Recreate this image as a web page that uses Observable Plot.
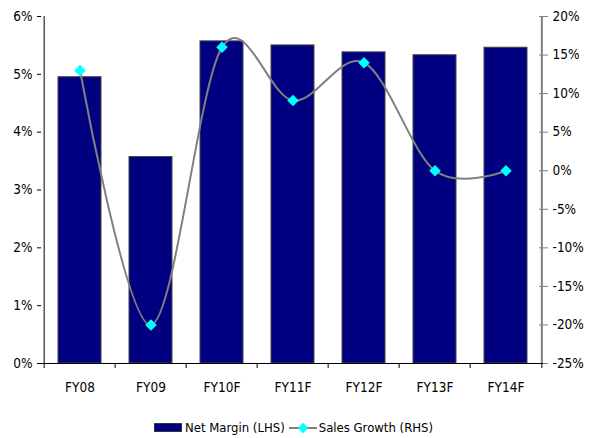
<!DOCTYPE html>
<html>
<head>
<meta charset="utf-8">
<script src="https://cdn.jsdelivr.net/npm/d3@7"></script>
<script src="https://cdn.jsdelivr.net/npm/@observablehq/plot@0.6"></script>
<style>
  html, body { margin: 0; padding: 0; background: #fff; }
  #chart { width: 593px; font-family: "DejaVu Sans Condensed", "DejaVu Sans", sans-serif; }
  .legend { display: flex; justify-content: center; align-items: center; height: 21px; padding-top: 22px; font-size: 13px; color: #000; padding-right: 6px; }
  .legend .sw { display: inline-block; width: 26px; height: 7px; background: #000080; border: 1px solid #333; margin-right: 3px; }
  .legend svg { margin: 0 2px 0 4px; }
</style>
</head>
<body>
<div id="chart"></div>
<script>
// Categories and series
const years = ["FY08", "FY09", "FY10F", "FY11F", "FY12F", "FY13F", "FY14F"];
const netMargin = [0.0495, 0.0357, 0.0557, 0.0550, 0.0538, 0.0533, 0.0546];
const salesGrowth = [0.13, -0.20, 0.16, 0.091, 0.14, 0.0, 0.0];

// Axis ticks
const leftTicks = [0, 0.01, 0.02, 0.03, 0.04, 0.05, 0.06];
const rightTicks = [-0.25, -0.20, -0.15, -0.10, -0.05, 0, 0.05, 0.10, 0.15, 0.20];

const leftDomain = [0, 0.06];
const rightDomain = [-0.25, 0.20];
// map right-hand values onto the left-hand scale
const toLeft = v => leftDomain[0] + (v - rightDomain[0]) / (rightDomain[1] - rightDomain[0]) * (leftDomain[1] - leftDomain[0]);

const W = 593, H = 395, mL = 41, mR = 50, mT = 16, mB = 32;
const step = (W - mL - mR) / years.length;
const pct = d => Math.round(d * 100) + "%";

const bars = years.map((y, i) => ({year: y, value: netMargin[i]}));
const growth = years.map((y, i) => ({year: y, value: salesGrowth[i]}));

const font = '"DejaVu Sans Condensed", "DejaVu Sans", sans-serif';
const fs = 13.5;

const plot = Plot.plot({
  width: W,
  height: H,
  marginLeft: mL,
  marginRight: mR,
  marginTop: mT,
  marginBottom: mB,
  style: {fontFamily: font, fontSize: fs + "px", color: "#000", background: "#fff"},
  x: {type: "band", domain: years, paddingInner: 0.4, paddingOuter: 0.2, axis: null},
  y: {domain: leftDomain, axis: null},
  marks: [
    Plot.barY(bars, {x: "year", y: "value", fill: "#000080", stroke: "#444", strokeWidth: 1}),
    Plot.line(growth, {x: "year", y: d => toLeft(d.value), stroke: "#808080", strokeWidth: 2, curve: "cardinal"}),
    Plot.dot(growth, {x: "year", y: d => toLeft(d.value), symbol: "diamond2", r: 5.2, fill: "#00FFFF", stroke: "none"}),
    // left axis
    Plot.ruleX([years[0]], {dx: -step / 2, stroke: "#000"}),
    Plot.axisY(leftTicks, {anchor: "left", label: null, tickSize: 4, tickPadding: 5, tickFormat: pct, stroke: "#000", fontSize: fs}),
    // right axis (Sales Growth)
    Plot.ruleX([years[years.length - 1]], {dx: step / 2, stroke: "#808080", strokeWidth: 2}),
    Plot.axisY(rightTicks, {anchor: "right", label: null, y: toLeft, text: null, tickSize: 9, dx: -5, stroke: "#808080"}),
    Plot.axisY(rightTicks, {anchor: "right", label: null, y: toLeft, tickSize: 0, tickPadding: 9, tickFormat: pct, fontSize: fs}),
    // category axis
    Plot.ruleY([0], {stroke: "#000"}),
    Plot.axisX(years, {label: null, tickSize: 5, text: null, dx: -step / 2, stroke: "#000"}),
    Plot.axisX([years[years.length - 1]], {label: null, tickSize: 5, text: null, dx: step / 2, stroke: "#000"}),
    Plot.axisX(years, {label: null, tickSize: 0, tickPadding: 19, fontSize: fs})
  ]
});

const chart = document.getElementById("chart");
chart.appendChild(plot);

// legend
const legend = document.createElement("div");
legend.className = "legend";
legend.innerHTML =
  '<span class="sw"></span><span>Net Margin (LHS)</span>' +
  '<svg width="28" height="12"><line x1="0" y1="6" x2="28" y2="6" stroke="#808080" stroke-width="2"/>' +
  '<path d="M14,0.5 L19,6 L14,11.5 L9,6 Z" fill="#00FFFF"/></svg>' +
  '<span>Sales Growth (RHS)</span>';
chart.appendChild(legend);
</script>
</body>
</html>
